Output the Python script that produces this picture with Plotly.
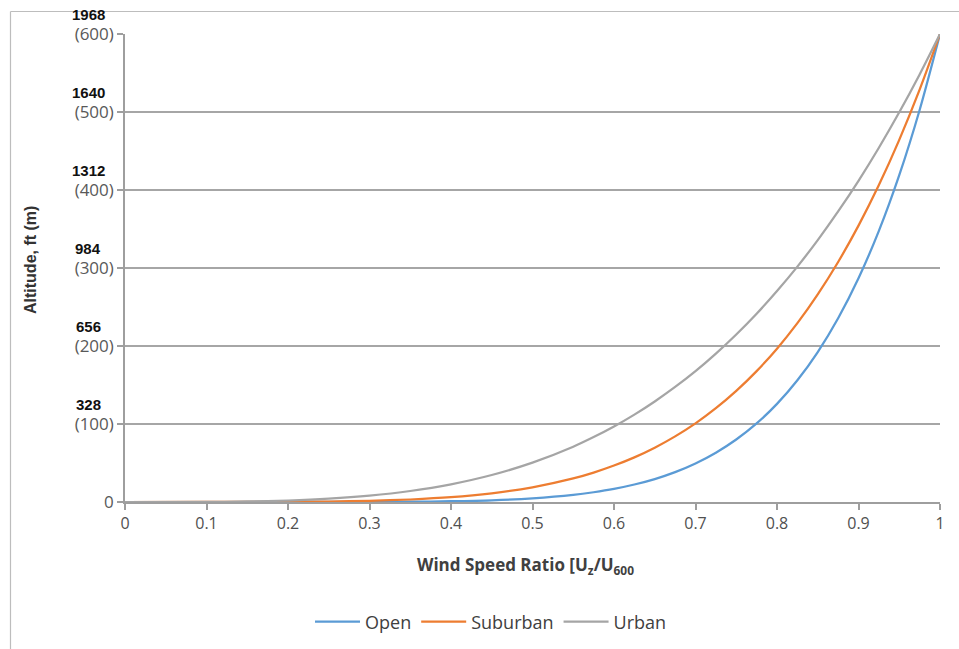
import plotly.graph_objects as go

# Wind speed ratio U_z/U_600 (x) and altitude in metres (y) for each terrain
ratio = [0.0, 0.1, 0.15, 0.2, 0.25, 0.3, 0.35, 0.4, 0.45, 0.5, 0.55, 0.575, 0.6,
         0.625, 0.65, 0.675, 0.7, 0.725, 0.75, 0.775, 0.8, 0.825, 0.85, 0.875,
         0.9, 0.925, 0.95, 0.975, 1.0]
open_alt = [0.0, 0.0, 0.0, 0.01, 0.04, 0.13, 0.39, 0.98, 2.2, 4.7, 9.1, 12.5, 16.8,
            22.4, 29.4, 38.3, 49.4, 63.2, 80.1, 100.7, 125.8, 156.1, 192.3, 235.6,
            286.9, 347.6, 419.0, 502.6, 600.0]
suburban_alt = [0.0, 0.01, 0.05, 0.19, 0.59, 1.5, 3.2, 6.1, 11.1, 18.8, 30.2, 37.7, 46.7,
                57.2, 69.6, 84.1, 100.8, 120.2, 142.4, 167.8, 196.6, 229.3, 266.2, 307.7,
                354.3, 406.3, 464.3, 528.7, 600.0]
urban_alt = [0.0, 0.16, 0.68, 1.9, 4.2, 8.1, 14.1, 22.7, 34.6, 50.5, 70.9, 83.2, 96.8,
             112.0, 128.9, 147.5, 167.8, 190.3, 214.8, 241.4, 270.5, 301.8, 335.8, 372.5,
             411.8, 454.2, 499.6, 548.2, 600.0]

x_ticks = [0, 0.1, 0.2, 0.3, 0.4, 0.5, 0.6, 0.7, 0.8, 0.9, 1]
x_tick_labels = ["0", "0.1", "0.2", "0.3", "0.4", "0.5", "0.6", "0.7", "0.8", "0.9", "1"]
y_ticks_m = [0, 100, 200, 300, 400, 500, 600]
y_tick_labels = ["0", "(100)", "(200)", "(300)", "(400)", "(500)", "(600)"]
y_ticks_ft = ["", "328", "656", "984", "1312", "1640", "1968"]

series = [
    ("Open", open_alt, "#5B9BD5"),
    ("Suburban", suburban_alt, "#ED7D31"),
    ("Urban", urban_alt, "#A5A5A5"),
]

fig = go.Figure()
for name, alt, color in series:
    fig.add_trace(go.Scatter(
        x=ratio, y=alt, name=name, mode="lines",
        line=dict(color=color, width=2.25, shape="spline", smoothing=0.8),
    ))

# figure dimensions / plot area in pixels
W, H = 959, 649
L, R, T, B = 125, 19, 34, 147
pw, ph = W - L - R, H - T - B

def px_x(p):
    return (p - L) / pw

def px_y(p):
    return (H - B - p) / ph

annotations = []
# feet labels stacked above the metre tick labels
for v, ft in zip(y_ticks_m, y_ticks_ft):
    if ft:
        annotations.append(dict(
            x=px_x(88), xref="paper", y=v, yref="y", yshift=20,
            text="<b>%s</b>" % ft, showarrow=False, xanchor="center", yanchor="middle",
            font=dict(family="Liberation Sans, Arial", size=15, color="#111111"),
        ))

annotations.append(dict(
    x=px_x(525), xref="paper", y=px_y(565), yref="paper",
    text="<b>Wind Speed Ratio [U<sub>z</sub>/U<sub>600</sub></b>",
    showarrow=False, xanchor="center", yanchor="middle",
    font=dict(family="Open Sans, Noto Sans", size=17, color="#404040"),
))
annotations.append(dict(
    x=px_x(30), xref="paper", y=px_y(260), yref="paper",
    text="<b>Altitude, ft (m)</b>", textangle=-90,
    showarrow=False, xanchor="center", yanchor="middle",
    font=dict(family="Liberation Sans, Arial", size=16, color="#333333"),
))

shapes = [
    # outer chart frame (top and left edges visible)
    dict(type="line", xref="paper", yref="paper",
         x0=px_x(10.5), x1=px_x(W + 5), y0=px_y(11.5), y1=px_y(11.5),
         line=dict(color="#BDBDBD", width=1.2)),
    dict(type="line", xref="paper", yref="paper",
         x0=px_x(10.5), x1=px_x(10.5), y0=px_y(11.5), y1=px_y(H + 5),
         line=dict(color="#BDBDBD", width=1.2)),
]

fig.update_layout(
    width=W, height=H,
    margin=dict(l=L, r=R, t=T, b=B),
    paper_bgcolor="white", plot_bgcolor="white",
    showlegend=True,
    legend=dict(
        orientation="h", xref="container", x=0.512, xanchor="center",
        yref="container", y=1 - 622 / H, yanchor="middle",
        font=dict(family="Open Sans, Noto Sans", size=18, color="#404040"),
        itemwidth=45,
    ),
    annotations=annotations,
    shapes=shapes,
    xaxis=dict(
        range=[0, 1], tickvals=x_ticks, ticktext=x_tick_labels,
        showgrid=False, zeroline=False,
        showline=True, linecolor="#9E9E9E", linewidth=1.5,
        ticks="outside", ticklen=6, tickcolor="#9E9E9E", tickwidth=1.5,
        tickfont=dict(family="Open Sans, Noto Sans", size=16, color="#505050"),
    ),
    yaxis=dict(
        range=[0, 600], tickvals=y_ticks_m, ticktext=y_tick_labels,
        showgrid=True, gridcolor="#A6A6A6", gridwidth=1.5,
        zeroline=False,
        showline=True, linecolor="#9E9E9E", linewidth=1.5,
        ticks="outside", ticklen=6, tickcolor="#9E9E9E", tickwidth=1.5,
        tickfont=dict(family="Open Sans, Noto Sans", size=17, color="#595959"),
    ),
)

fig.write_html("out.html")
